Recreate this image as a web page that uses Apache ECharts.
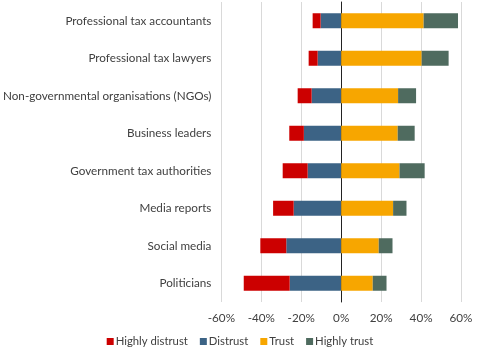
<!DOCTYPE html>
<html><head><meta charset="utf-8">
<script src="https://cdn.jsdelivr.net/npm/echarts@6/dist/echarts.min.js"></script>
<style>html,body{margin:0;padding:0;background:#fff}#c{width:480px;height:356px}</style>
</head><body><div id="c"></div>
<script>
const categories = ["Professional tax accountants","Professional tax lawyers","Non-governmental organisations (NGOs)","Business leaders","Government tax authorities","Media reports","Social media","Politicians"];
const highlyDistrust = [-4, -4.5, -7, -7.3, -12.5, -10.3, -13, -23];
const distrust = [-10.3, -11.8, -14.8, -18.7, -16.8, -23.8, -27.5, -25.8];
const trust = [41.3, 40.3, 28.5, 28.3, 29.2, 26, 18.8, 15.8];
const highlyTrust = [17.2, 13.5, 9, 8.5, 12.6, 6.7, 6.9, 6.9];
const xTicks = [-60, -40, -20, 0, 20, 40, 60];

const font = 'Lato';
const fs = 11.7;
const chart = echarts.init(document.getElementById('c'));
chart.setOption({
  animation: false,
  textStyle: {fontFamily: font},
  grid: {left: 221, right: 19, top: 2, bottom: 54, containLabel: false},
  legend: {
    data: ['Highly distrust','Distrust','Trust','Highly trust'],
    bottom: 4, left: 'center', icon: 'rect', itemWidth: 7, itemHeight: 7, itemGap: 12,
    textStyle: {fontFamily: font, fontSize: 11.3, color: '#404040', padding: [0,0,0,-3]}
  },
  xAxis: {
    type: 'value', min: xTicks[0], max: xTicks[xTicks.length-1], interval: 20,
    axisLabel: {formatter: v => v + '%', fontSize: fs, color: '#404040', margin: 10, fontFamily: font},
    axisLine: {show: false}, axisTick: {show: false},
    splitLine: {lineStyle: {color: '#d9d9d9', width: 1}}
  },
  yAxis: {
    type: 'category', data: categories, inverse: true,
    axisLabel: {fontSize: fs, color: '#404040', margin: 10, fontFamily: font},
    axisTick: {show: false},
    axisLine: {show: true, onZero: true, lineStyle: {color: '#222', width: 1}}
  },
  series: [
    {name: 'Distrust', type: 'bar', stack: 's', data: distrust, barWidth: 15, itemStyle: {color: '#3C6385'}},
    {name: 'Highly distrust', type: 'bar', stack: 's', data: highlyDistrust, barWidth: 15, itemStyle: {color: '#CC0000'}},
    {name: 'Trust', type: 'bar', stack: 's', data: trust, barWidth: 15, itemStyle: {color: '#F7A600'}},
    {name: 'Highly trust', type: 'bar', stack: 's', data: highlyTrust, barWidth: 15, itemStyle: {color: '#4F6B5F'}}
  ]
});
</script></body></html>
